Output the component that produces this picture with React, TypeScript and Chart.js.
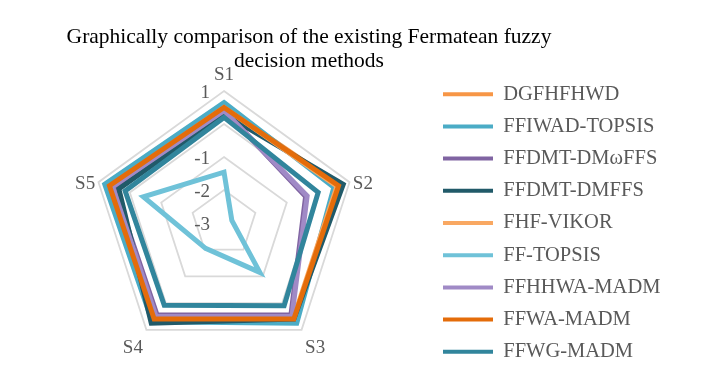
import React, { useEffect, useRef } from "react";
import { Chart, registerables } from "chart.js";

Chart.register(...registerables);

// ---------- data ----------
const CATEGORIES = ["S1", "S2", "S3", "S4", "S5"];
const TICK_VALUES = [1, 0, -1, -2, -3];
const TITLE_LINES = [
  "Graphically comparison of the existing Fermatean fuzzy",
  "decision methods",
];

const SERIES_NAMES = [
  "DGFHFHWD",
  "FFIWAD-TOPSIS",
  "FFDMT-DM\u03c9FFS",
  "FFDMT-DMFFS",
  "FHF-VIKOR",
  "FF-TOPSIS",
  "FFHHWA-MADM",
  "FFWA-MADM",
  "FFWG-MADM",
];

const DGFHFHWD = [0.52, 0.68, 0.6, 0.58, 0.65];
const FFIWAD_TOPSIS = [0.65, 0.5, 0.75, 0.7, 0.8];
const FFDMT_DMWFFS = [0.42, -0.4, 0.45, 0.45, 0.5];
const FFDMT_DMFFS = [0.3, 0.8, 0.6, 0.75, 0.35];
const FHF_VIKOR = [0.5, 0.6, 0.58, 0.55, 0.62];
const FF_TOPSIS = [-1.46, -2.75, -1.15, -2.05, -0.43];
const FFHHWA_MADM = [0.4, -0.35, 0.5, 0.5, 0.55];
const FFWA_MADM = [0.5, 0.65, 0.6, 0.6, 0.65];
const FFWG_MADM = [0.2, 0.0, 0.1, 0.08, 0.15];

const SERIES_VALUES = [
  DGFHFHWD,
  FFIWAD_TOPSIS,
  FFDMT_DMWFFS,
  FFDMT_DMFFS,
  FHF_VIKOR,
  FF_TOPSIS,
  FFHHWA_MADM,
  FFWA_MADM,
  FFWG_MADM,
];

// ---------- style ----------
const COLORS = [
  "#F79646",
  "#4BACC6",
  "#8064A2",
  "#215A69",
  "#F9A862",
  "#6FC2D8",
  "#A08AC6",
  "#E46C0A",
  "#31859C",
];

const W = 709;
const H = 390;
const SERIF = '"Liberation Serif", "Times New Roman", serif';
const LEGEND_FONT = 20.5;
const LEGEND_PAD = 11.7;
const LEGEND_BOX = 50;
const LEGEND_ITEM_X = 443;
const CENTER_X = 224;
const CHART_TOP = 62;
const CHART_BOTTOM = 384;

const textPlugin = {
  id: "customText",
  beforeDatasetsDraw(chart: any) {
    const scale = chart.scales.r;
    const ctx = chart.ctx;
    ctx.save();
    ctx.font = `19px ${SERIF}`;
    ctx.fillStyle = "#595959";
    ctx.textAlign = "right";
    ctx.textBaseline = "middle";
    TICK_VALUES.forEach((v) => {
      const p = scale.getPointPositionForValue(0, v);
      ctx.fillText(String(v), p.x - 14, p.y + 2);
    });
    ctx.restore();
  },
  afterDraw(chart: any) {
    const scale = chart.scales.r;
    const ctx = chart.ctx;
    ctx.save();
    ctx.font = `19px ${SERIF}`;
    ctx.fillStyle = "#595959";
    ctx.textAlign = "center";
    ctx.textBaseline = "middle";
    CATEGORIES.forEach((c, i) => {
      const extra = i === 0 ? 16 : i === 2 || i === 3 ? 23 : 14;
      const dy = i === 1 || i === 4 ? 6 : 0;
      const p = scale.getPointPosition(i, scale.drawingArea + extra);
      ctx.fillText(c, p.x, p.y + dy);
    });
    ctx.font = `21.5px ${SERIF}`;
    ctx.fillStyle = "#000000";
    ctx.textAlign = "center";
    ctx.textBaseline = "alphabetic";
    TITLE_LINES.forEach((t, i) => {
      ctx.fillText(t, 309, 43 + i * 24);
    });
    ctx.restore();
  },
};

export default function App() {
  const ref = useRef<HTMLCanvasElement | null>(null);

  useEffect(() => {
    document.body.style.margin = "0";
    document.body.style.background = "#ffffff";
    const canvas = ref.current;
    if (!canvas) return;

    const mctx = document.createElement("canvas").getContext("2d")!;
    mctx.font = `${LEGEND_FONT}px ${SERIF}`;
    const maxW = Math.max(...SERIES_NAMES.map((s) => mctx.measureText(s).width));
    const legendLeft = LEGEND_ITEM_X - LEGEND_PAD;
    const legendRight = LEGEND_ITEM_X + LEGEND_BOX + LEGEND_FONT / 2 + maxW + 10;
    const padRight = W - legendRight;
    const padLeft = 2 * CENTER_X + 0.5 - legendLeft;

    const chart = new Chart(canvas, {
      type: "radar",
      data: {
        labels: CATEGORIES,
        datasets: SERIES_NAMES.map((name, i) => ({
          label: name,
          data: SERIES_VALUES[i],
          borderColor: COLORS[i],
          backgroundColor: COLORS[i],
          borderWidth: 5,
          borderJoinStyle: "miter" as const,
          fill: false,
          pointRadius: 0,
          pointHoverRadius: 0,
          tension: 0,
          order: SERIES_NAMES.length - i,
        })),
      },
      options: {
        responsive: false,
        animation: false,
        devicePixelRatio: 1,
        layout: {
          padding: {
            left: padLeft,
            right: padRight,
            top: CHART_TOP,
            bottom: H - CHART_BOTTOM,
          },
        },
        scales: {
          r: {
            min: -3,
            max: 1,
            startAngle: 0,
            ticks: {
              stepSize: 1,
              display: true,
              showLabelBackdrop: false,
              font: { size: 20 },
              backdropPadding: 19,
              callback: () => "",
            },
            grid: { color: "#D9D9D9", lineWidth: 1.8 },
            angleLines: { display: false },
            pointLabels: { display: false },
          },
        },
        plugins: {
          title: { display: false },
          tooltip: { enabled: false },
          legend: {
            display: true,
            position: "right",
            align: "center",
            labels: {
              boxWidth: LEGEND_BOX,
              boxHeight: 4,
              padding: LEGEND_PAD,
              color: "#595959",
              font: { family: SERIF, size: LEGEND_FONT },
              sort: (a: any, b: any) => a.datasetIndex - b.datasetIndex,
              generateLabels: (ch: any) =>
                Chart.defaults.plugins.legend.labels
                  .generateLabels(ch)
                  .map((l: any) => ({ ...l, fillStyle: l.strokeStyle, lineWidth: 0 })),
            },
          },
        },
      },
      plugins: [textPlugin],
    });

    return () => chart.destroy();
  }, []);

  return (
    <div style={{ width: W, height: H, background: "#ffffff" }}>
      <canvas ref={ref} width={W} height={H} style={{ display: "block" }} />
    </div>
  );
}
